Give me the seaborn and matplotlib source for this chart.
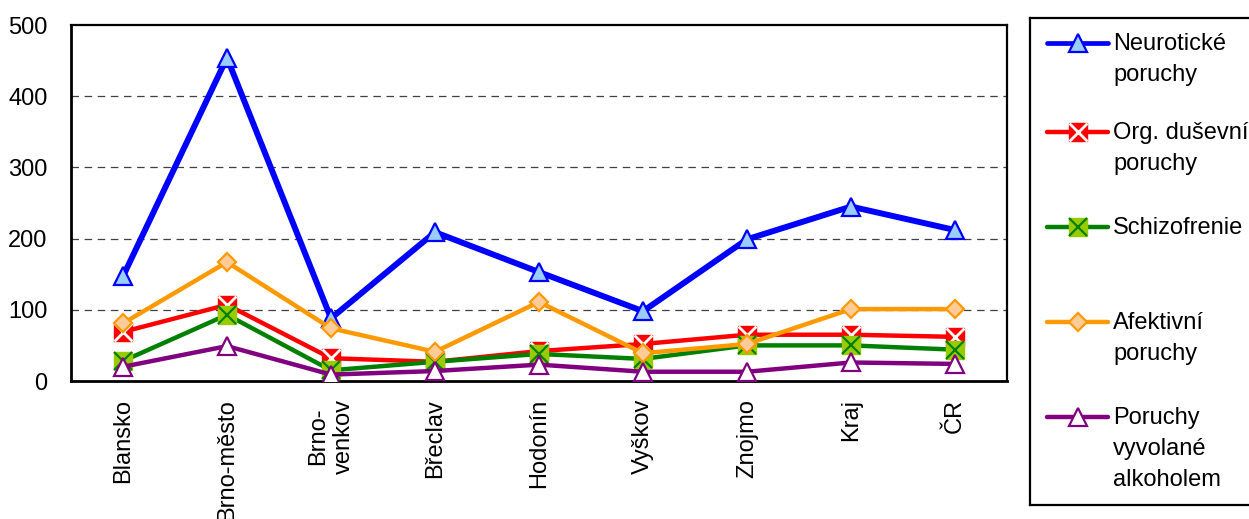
import numpy as np
import pandas as pd
import matplotlib
matplotlib.use("Agg")
import matplotlib.pyplot as plt
from matplotlib.lines import Line2D
import seaborn as sns

# ---- data ----
categories = ["Blansko", "Brno-město", "Brno-venkov", "Břeclav", "Hodonín",
              "Vyškov", "Znojmo", "Kraj", "ČR"]
tick_labels = ["Blansko", "Brno-město", "Brno-\nvenkov", "Břeclav", "Hodonín",
               "Vyškov", "Znojmo", "Kraj", "ČR"]
neuroticke = [147, 454, 88, 209, 153, 98, 199, 245, 212]
org_dusevni = [69, 107, 32, 27, 42, 52, 65, 65, 62]
schizofrenie = [28, 93, 15, 27, 38, 31, 50, 50, 44]
afektivni = [81, 167, 74, 41, 111, 39, 52, 101, 101]
alkohol = [20, 49, 9, 14, 23, 13, 13, 26, 24]
series_labels = ["Neurotické\nporuchy", "Org. duševní\nporuchy", "Schizofrenie",
                 "Afektivní\nporuchy", "Poruchy\nvyvolané\nalkoholem"]
y_ticks = [0, 100, 200, 300, 400, 500]

sns.set_style("white")
plt.rcParams["font.family"] = ["Liberation Sans", "DejaVu Sans"]
plt.rcParams["text.color"] = "black"
plt.rcParams["xtick.color"] = "black"
plt.rcParams["ytick.color"] = "black"
plt.rcParams["axes.labelcolor"] = "black"

W, H = 1249, 519
fig = plt.figure(figsize=(W / 100, H / 100), dpi=100)
ax = fig.add_axes([71 / W, (H - 381) / H, 936 / W, 356 / H])

# series styles
styles = [
    dict(color="#0000FF", lw=4.3, marker="^", ms=13.5, mfc="#99CCFF", mec="#0000FF", mew=1.6),
    dict(color="#FF0000", lw=3.2, marker="s", ms=12.5, mfc="#FF0000", mec="#FF0000", mew=1.0),
    dict(color="#008000", lw=3.2, marker="s", ms=13.0, mfc="#99CC00", mec="#99CC00", mew=1.0),
    dict(color="#FF9900", lw=3.2, marker="D", ms=9.0, mfc="#FFCC99", mec="#FF9900", mew=1.6),
    dict(color="#800080", lw=3.2, marker="^", ms=13.0, mfc="#FFFFFF", mec="#800080", mew=1.6),
]
overlays = [
    None,
    dict(marker="x", ms=12.5, mec="#FFFFFF", mew=2.0),
    dict(marker="x", ms=13.0, mec="#008000", mew=1.6),
    None,
    None,
]
all_vals = [neuroticke, org_dusevni, schizofrenie, afektivni, alkohol]

for i, (vals, st, ov) in enumerate(zip(all_vals, styles, overlays)):
    df = pd.DataFrame({"kategorie": categories, "hodnota": vals})
    sns.lineplot(data=df, x="kategorie", y="hodnota", ax=ax, sort=False,
                 color=st["color"], linewidth=st["lw"], marker=st["marker"],
                 markersize=st["ms"], markerfacecolor=st["mfc"],
                 markeredgecolor=st["mec"], markeredgewidth=st["mew"],
                 zorder=3 + i * 2)
    if ov is not None:
        ax.plot(categories, vals, linestyle="none", marker=ov["marker"],
                markersize=ov["ms"], markeredgecolor=ov["mec"],
                markeredgewidth=ov["mew"], zorder=4 + i * 2)

n = len(categories)
ax.set_xlim(-0.5, n - 0.5)
ax.set_ylim(0, 500)
ax.set_xlabel("")
ax.set_ylabel("")

ax.set_xticks(np.arange(n), labels=tick_labels, rotation=90, fontsize=17)
ax.set_xticks(np.arange(n + 1) - 0.5, minor=True)
ax.tick_params(axis="x", which="major", length=0, pad=13, labelcolor="black")
ax.tick_params(axis="x", which="minor", length=7, width=1.8, direction="out", color="black")
for lab in ax.get_xticklabels():
    lab.set_verticalalignment("top")
    lab.set_horizontalalignment("center")
    lab.set_multialignment("center")

ax.set_yticks(y_ticks)
ax.set_yticklabels([str(v) for v in y_ticks], fontsize=17)
ax.tick_params(axis="y", length=7, width=1.8, direction="out", pad=10,
               color="black", labelcolor="black")

for yv in y_ticks[1:-1]:
    ax.axhline(yv, color="#404040", lw=0.9, ls=(0, (6, 4.5)), zorder=1)

for sp in ax.spines.values():
    sp.set_visible(True)
    sp.set_color("black")
    sp.set_linewidth(1.6)
ax.spines["left"].set_linewidth(2.0)
ax.spines["bottom"].set_linewidth(2.0)

# ---- legend box drawn as a separate axes ----
lx0, ly_top, ly_bot = 1030, 18, 505
lax = fig.add_axes([lx0 / W, (H - ly_bot) / H, (W - lx0 + 20) / W, (ly_bot - ly_top) / H])
lax.set_xlim(0, W - lx0 + 20)
lax.set_ylim(ly_bot - ly_top, 0)
lax.set_xticks([])
lax.set_yticks([])
for sp in lax.spines.values():
    sp.set_visible(True)
    sp.set_color("black")
    sp.set_linewidth(1.6)

entry_y = [25, 114, 209, 304, 399]
line_step = 31
for i, (st, ov, lab) in enumerate(zip(styles, overlays, series_labels)):
    y = entry_y[i]
    lax.add_line(Line2D([17, 78], [y, y], color=st["color"], lw=st["lw"] if i else 3.4))
    lax.add_line(Line2D([47.5], [y], linestyle="none", marker=st["marker"],
                        markersize=st["ms"], markerfacecolor=st["mfc"],
                        markeredgecolor=st["mec"], markeredgewidth=st["mew"]))
    if ov is not None:
        lax.add_line(Line2D([47.5], [y], linestyle="none", marker=ov["marker"],
                            markersize=ov["ms"], markeredgecolor=ov["mec"],
                            markeredgewidth=ov["mew"]))
    for k, part in enumerate(lab.split("\n")):
        lax.text(83, y + 7 + k * line_step, part, fontsize=17, va="baseline",
                 ha="left", color="black")

fig.savefig("out.png", dpi=100)
